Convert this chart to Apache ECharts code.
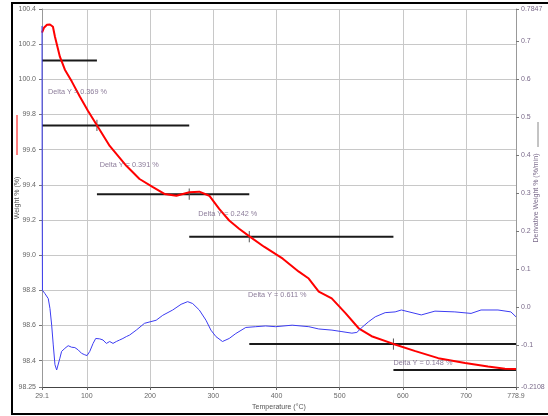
<!DOCTYPE html>
<html>
<head>
<meta charset="utf-8">
<script src="https://cdn.jsdelivr.net/npm/echarts@6/dist/echarts.min.js"></script>
<style>html,body{margin:0;padding:0;background:#fff;}#c{width:548px;height:416px;}</style>
</head>
<body>
<div id="c"></div>
<script>
// Weight % curve (red, left axis)
const weightT = [29.1, 32.2, 37, 41.7, 46.4, 49.6, 57.4, 65.3, 76.3, 88.9, 101.5, 115.7, 136.2, 162.5, 183.4, 203.9, 222.8, 241.7, 262.2, 277.9, 293.7, 309.4, 325.2, 340.9, 356.7, 380.3, 410, 435.4, 451, 466.9, 487.4, 509.5, 530, 550.5, 585, 619.7, 655.9, 698.4, 734.6, 761.4, 778.9];
const weightV = [100.265, 100.293, 100.31, 100.312, 100.299, 100.242, 100.129, 100.055, 99.987, 99.902, 99.823, 99.74, 99.621, 99.508, 99.433, 99.388, 99.348, 99.338, 99.358, 99.361, 99.338, 99.263, 99.197, 99.150, 99.108, 99.048, 98.98, 98.906, 98.867, 98.793, 98.754, 98.669, 98.584, 98.539, 98.495, 98.454, 98.414, 98.386, 98.367, 98.354, 98.352];

// Derivative weight curve (blue, right axis)
const derivT = [29.1, 29.4, 29.8, 33.8, 39.0, 41.7, 44.4, 46.9, 49.6, 52.3, 54.8, 57.4, 60.1, 65.3, 70.5, 75.9, 81.1, 86.3, 91.6, 96.8, 100.4, 104.7, 109.9, 114.1, 120.4, 125.6, 130.9, 136.2, 141.4, 146.7, 151.9, 157.1, 162.5, 167.7, 178.2, 191.3, 209.7, 220.1, 235.9, 249.1, 259.5, 267.4, 277.9, 288.5, 296.3, 304.2, 314.6, 325.2, 335.7, 351.5, 367.2, 382.9, 398.7, 424.9, 451.2, 466.9, 487.8, 503.6, 519.3, 527.2, 535.1, 545.6, 556.2, 571.9, 587.7, 597.6, 629.1, 650.7, 682.2, 707.8, 723.6, 750.4, 770.8, 778.9];
const derivV = [0.74, 0.30, 0.044, 0.035, 0.022, -0.004, -0.048, -0.100, -0.152, -0.166, -0.161, -0.135, -0.117, -0.109, -0.102, -0.106, -0.107, -0.113, -0.122, -0.126, -0.128, -0.117, -0.096, -0.083, -0.084, -0.087, -0.096, -0.091, -0.096, -0.091, -0.087, -0.083, -0.078, -0.074, -0.061, -0.043, -0.035, -0.022, -0.008, 0.007, 0.014, 0.009, -0.008, -0.035, -0.061, -0.078, -0.091, -0.083, -0.070, -0.054, -0.052, -0.050, -0.052, -0.048, -0.052, -0.058, -0.061, -0.065, -0.069, -0.067, -0.054, -0.039, -0.026, -0.015, -0.013, -0.008, -0.021, -0.011, -0.013, -0.017, -0.008, -0.008, -0.013, -0.026];

// Step analysis level lines
const levelW = [100.107, 99.738, 99.347, 99.105, 98.494, 98.346];
const levelStart = [29.1, 29.1, 116, 262, 357, 585];
const levelEnd = [116, 262, 357, 585, 778.9, 778.9];
const markT = [116, 262, 357, 585];
const markW = [99.738, 99.347, 99.105, 98.494];

// Delta Y annotations
const deltaText = ['Delta Y = 0.369 %', 'Delta Y = 0.391 %', 'Delta Y = 0.242 %', 'Delta Y = 0.611 %', 'Delta Y = 0.148 %'];
const deltaT = [38.5, 120.4, 276.3, 355.1, 585];
const deltaW = [99.929, 99.512, 99.235, 98.776, 98.386];

// Tick values
const xTicks = [29.1, 100, 200, 300, 400, 500, 600, 700, 778.9];
const yLeftTicks = [98.25, 98.4, 98.6, 98.8, 99.0, 99.2, 99.4, 99.6, 99.8, 100.0, 100.2, 100.4];
const yRightTicks = [-0.2108, -0.1, 0.0, 0.1, 0.2, 0.3, 0.4, 0.5, 0.6, 0.7, 0.7847];

const font = 'Liberation Sans, Arial, sans-serif';
const chart = echarts.init(document.getElementById('c'), null, {renderer: 'canvas'});

const series = [];
levelW.forEach((w, i) => {
  series.push({
    type: 'line', yAxisIndex: 0, symbol: 'none', silent: true, z: 3,
    lineStyle: {color: '#1a1a1a', width: 2},
    data: [[levelStart[i], w], [levelEnd[i], w]]
  });
});
markT.forEach((t, i) => {
  series.push({
    type: 'line', yAxisIndex: 0, symbol: 'none', silent: true, z: 4,
    lineStyle: {color: '#555', width: 1},
    data: [[t, markW[i] - 0.032], [t, markW[i] + 0.032]]
  });
});
series.push({
  type: 'line', yAxisIndex: 0, symbol: 'none', z: 5,
  lineStyle: {color: '#ff0000', width: 2},
  data: weightT.map((t, i) => [t, weightV[i]])
});
series.push({
  type: 'line', yAxisIndex: 1, symbol: 'none', z: 6,
  lineStyle: {color: '#3c3cf2', width: 1},
  data: derivT.map((t, i) => [t, derivV[i]])
});
series.push({
  type: 'scatter', yAxisIndex: 0, symbolSize: 0, z: 7, silent: true,
  itemStyle: {color: 'transparent'},
  label: {
    show: true, position: [0, 0], align: 'left', verticalAlign: 'middle',
    fontSize: 7.3, color: '#6e5a80', fontFamily: font,
    formatter: p => deltaText[p.dataIndex]
  },
  data: deltaT.map((t, i) => [t, deltaW[i]])
});

chart.setOption({
  animation: false,
  textStyle: {fontFamily: font},
  grid: {left: 42, right: 30, top: 9, bottom: 27},
  xAxis: {
    type: 'value', min: 29.1, max: 778.9,
    name: 'Temperature (°C)', nameLocation: 'middle', nameGap: 17, nameMoveOverlap: false,
    nameTextStyle: {fontSize: 7, color: '#555', fontFamily: font},
    axisLine: {onZero: false, lineStyle: {color: '#444', width: 1}},
    axisTick: {show: true, length: 3, customValues: xTicks, lineStyle: {color: '#666'}},
    axisLabel: {customValues: xTicks, fontSize: 7, color: '#666', margin: 6,
      formatter: v => (v === 29.1 || v === 778.9) ? String(v) : String(Math.round(v))},
    splitLine: {show: true, lineStyle: {color: '#c8c8c8', width: 1}}
  },
  yAxis: [{
    type: 'value', min: 98.25, max: 100.4, position: 'left',
    name: 'Weight % (%)', nameLocation: 'middle', nameGap: 21, nameMoveOverlap: false,
    nameTextStyle: {fontSize: 7, color: '#555', fontFamily: font},
    axisLine: {show: true, onZero: false, lineStyle: {color: '#999'}},
    axisTick: {show: true, length: 3, customValues: yLeftTicks, lineStyle: {color: '#777'}},
    axisLabel: {customValues: yLeftTicks, fontSize: 7, color: '#666', margin: 6,
      formatter: v => (Math.abs(v - 98.25) < 1e-6) ? '98.25' : v.toFixed(1)},
    splitLine: {show: true, lineStyle: {color: '#c8c8c8', width: 1}}
  }, {
    type: 'value', min: -0.2108, max: 0.7847, position: 'right',
    name: 'Derivative Weight % (%/min)', nameLocation: 'middle', nameGap: 17, nameMoveOverlap: false,
    nameRotate: 90,
    nameTextStyle: {fontSize: 7, color: '#7a6a8a', fontFamily: font},
    axisLine: {show: true, onZero: false, lineStyle: {color: '#999'}},
    axisTick: {show: true, length: 3, customValues: yRightTicks, lineStyle: {color: '#777'}},
    axisLabel: {customValues: yRightTicks, fontSize: 7, color: '#7a6a8a', margin: 5,
      formatter: v => (Math.abs(v + 0.2108) < 1e-6) ? '-0.2108' : (Math.abs(v - 0.7847) < 1e-6 ? '0.7847' : v.toFixed(1))},
    splitLine: {show: false}
  }],
  graphic: [
    {type: 'rect', shape: {x: 12, y: 3, width: 620, height: 411}, style: {fill: 'none', stroke: '#000', lineWidth: 2}, silent: true},
    {type: 'line', shape: {x1: 17, y1: 115, x2: 17, y2: 155}, style: {stroke: '#ff0000', lineWidth: 1}, silent: true},
    {type: 'line', shape: {x1: 538, y1: 122, x2: 538, y2: 147}, style: {stroke: '#888', lineWidth: 1}, silent: true}
  ],
  series: series
});
</script>
</body>
</html>
